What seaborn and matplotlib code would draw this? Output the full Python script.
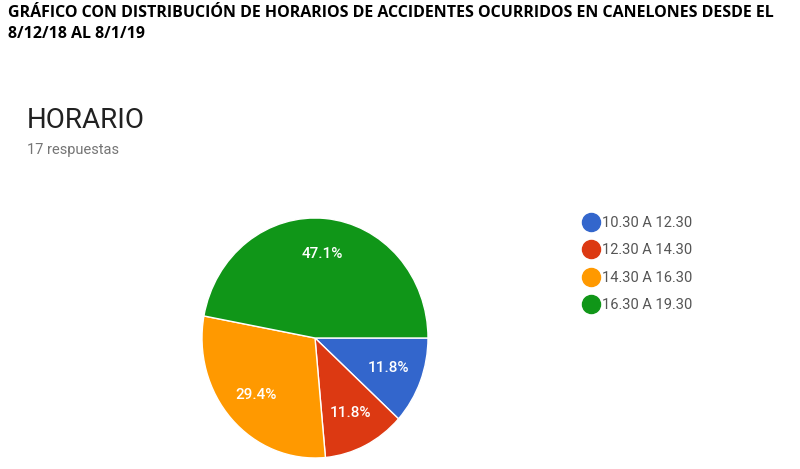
"""
Pie chart of accident time slots in Canelones (8/12/18 - 8/1/19).
"""
import matplotlib
matplotlib.use('Agg')
import seaborn as sns
from matplotlib import pyplot as plt
from matplotlib.lines import Line2D

sns.set_theme(style="white")
plt.rcParams['font.family'] = ['Roboto', 'DejaVu Sans']

# data
horarios = ['10.30 A 12.30', '12.30 A 14.30', '14.30 A 16.30', '16.30 A 19.30']
respuestas = [2, 2, 5, 8]
colores = ['#3366cc', '#dc3912', '#ff9900', '#109618']
titulo = ('GRÁFICO CON DISTRIBUCIÓN DE HORARIOS DE ACCIDENTES OCURRIDOS EN CANELONES DESDE EL\n'
          '8/12/18 AL 8/1/19')
pregunta = 'HORARIO'
total_txt = '17 respuestas'

W, H = 800, 469
fig = plt.figure(figsize=(W / 100, H / 100), dpi=100)
fig.patch.set_facecolor('white')

# header
fig.text(8 / W, 1 - 5 / H, titulo, ha='left', va='top', fontsize=11.5,
         fontweight='bold', family=['Open Sans', 'DejaVu Sans'], color='black',
         linespacing=1.4)
fig.text(27 / W, 1 - 121 / H, pregunta, ha='left', va='center', fontsize=20,
         color='#212121')
fig.text(27 / W, 1 - 150 / H, total_txt, ha='left', va='center', fontsize=10.5,
         color='#757575')

# pie, slightly taller than wide like the source screenshot
ax = fig.add_axes([202 / W, (H - 458) / H, 226 / W, 240 / H])
wedges, _, autotexts = ax.pie(respuestas, colors=colores, startangle=0, counterclock=False,
                              autopct='%1.1f%%', pctdistance=0.7,
                              wedgeprops=dict(edgecolor='white', linewidth=1),
                              textprops=dict(color='white', fontsize=11, fontweight='medium'))
ax.set_aspect('auto')
ax.set_xlim(-1, 1)
ax.set_ylim(-1, 1)
ax.axis('off')

# legend
handles = [Line2D([], [], marker='o', linestyle='', markersize=13, color=c) for c in colores]
fig.legend(handles, horarios, loc='upper left', bbox_to_anchor=(576 / W, 1 - 210 / H),
           frameon=False, fontsize=10.5, labelcolor='#555555', handletextpad=0.15,
           labelspacing=0.92, borderaxespad=0, handlelength=1.2)

fig.savefig('out.png', dpi=100, facecolor='white')
